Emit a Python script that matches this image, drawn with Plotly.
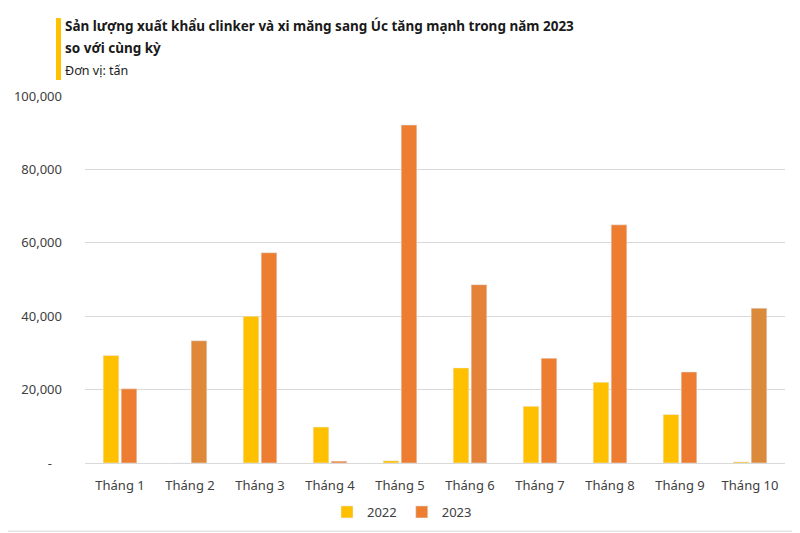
import plotly.graph_objects as go

# data (tấn)
months = ["Tháng 1", "Tháng 2", "Tháng 3", "Tháng 4", "Tháng 5",
          "Tháng 6", "Tháng 7", "Tháng 8", "Tháng 9", "Tháng 10"]
val_2022 = [29300, 0, 40000, 9800, 600, 25900, 15450, 22000, 13200, 300]
val_2023 = [20200, 33300, 57300, 500, 92100, 48600, 28550, 64900, 24800, 42200]

y_ticks = [0, 20000, 40000, 60000, 80000, 100000]
y_ticktext = ["-\u00a0\u00a0\u00a0", "20,000", "40,000", "60,000", "80,000", "100,000"]

# a few 2023 bars are a shade browner in the picture
col_2023 = ["#ED7D31", "#DE8838", "#ED7D31", "#ED7D31", "#ED7D31",
            "#E5823A", "#ED7D31", "#ED7D31", "#ED7D31", "#DA8A3A"]

FONT = "Noto Sans"
TXT = "#404040"

fig = go.Figure()
fig.add_trace(go.Bar(x=months, y=val_2022, name="2022", marker_color="#FFC000"))
fig.add_trace(go.Bar(x=months, y=val_2023, name="2023", marker_color=col_2023))

# the page puts the figure 8px in from the window corner, so size it to what is seen
OFF = 8
FW, FH = 800 - OFF, 533 - OFF
# plot area in window pixels
SL, SR, ST, SB = 85, 785, 96, 463.3
L, T = SL - OFF, ST - OFF
R, B = FW - (SR - OFF), FH - (SB - OFF)
W, H = SR - SL, SB - ST
px = lambda v: (v - SL) / W      # window px -> paper x
py = lambda v: (SB - v) / H      # window px -> paper y

fig.update_layout(
    width=FW, height=FH,
    margin=dict(l=L, r=R, t=T, b=B, autoexpand=False),
    paper_bgcolor="white", plot_bgcolor="white",
    barmode="group", bargap=0.486, bargroupgap=0.13,
    font=dict(family=FONT, size=13, color=TXT),
    xaxis=dict(showgrid=False, showline=True, linecolor="#d9d9d9", linewidth=1,
               ticks="", ticklabelstandoff=10, tickfont=dict(size=13, color=TXT)),
    yaxis=dict(range=[0, 100000], tickvals=y_ticks, ticktext=y_ticktext,
               showgrid=True, gridcolor="#d9d9d9", gridwidth=1, zeroline=False,
               showline=False, ticks="", ticklabelstandoff=22,
               tickfont=dict(size=13, color=TXT)),
    legend=dict(orientation="h", xref="container", yref="container",
                x=(402 - OFF) / FW, xanchor="center",
                y=(533 - 512) / FH, yanchor="middle",
                font=dict(size=13, color=TXT), itemwidth=30, tracegroupgap=0),
    showlegend=True,
)

# yellow accent bar beside the title
fig.add_shape(type="rect", xref="paper", yref="paper",
              x0=px(56), x1=px(61), y0=py(80), y1=py(18),
              fillcolor="#FFC000", line_width=0)
# thin frame round the image
fig.add_shape(type="rect", xref="paper", yref="paper",
              x0=px(0.5), x1=px(798.5), y0=py(531.5), y1=py(0.5),
              line=dict(color="#d9d9d9", width=1), fillcolor="rgba(0,0,0,0)")

fig.add_annotation(xref="paper", yref="paper", x=px(63), y=py(26),
                   xanchor="left", yanchor="middle", showarrow=False,
                   text="<b>Sản lượng xuất khẩu clinker và xi măng sang Úc tăng mạnh trong năm 2023</b>",
                   font=dict(family=FONT, size=13.5, color="#1a1a1a"))
fig.add_annotation(xref="paper", yref="paper", x=px(63), y=py(48),
                   xanchor="left", yanchor="middle", showarrow=False,
                   text="<b>so với cùng kỳ</b>",
                   font=dict(family=FONT, size=13.5, color="#1a1a1a"))
fig.add_annotation(xref="paper", yref="paper", x=px(63), y=py(70),
                   xanchor="left", yanchor="middle", showarrow=False,
                   text="Đơn vị: tấn",
                   font=dict(family=FONT, size=12.5, color="#1a1a1a"))

fig.write_html("out.html")
